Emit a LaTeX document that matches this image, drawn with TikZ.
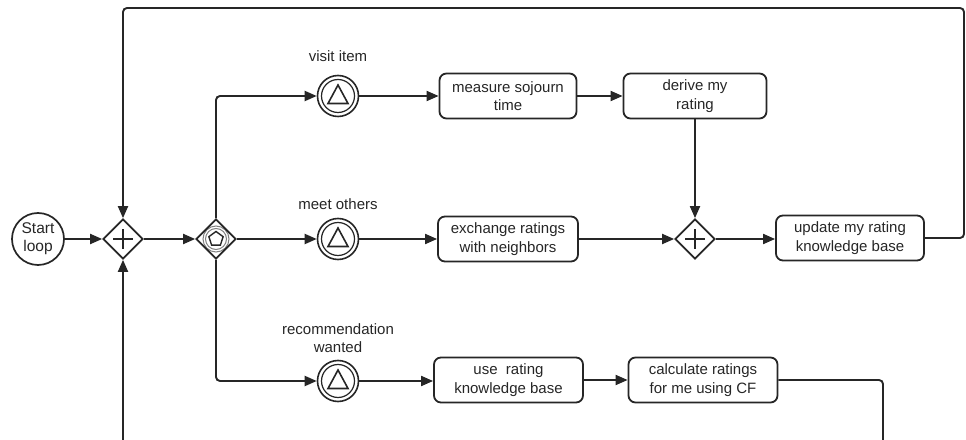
\documentclass[tikz,border=0pt]{standalone}
\usepackage{fontspec}
\setmainfont{Liberation Sans}
\usetikzlibrary{arrows.meta,shapes.geometric}
\definecolor{ink}{rgb}{0.15,0.15,0.15}
\begin{document}
\begin{tikzpicture}[x=1pt,y=1pt,
  every node/.style={text=ink,font=\fontsize{15}{18.5}\selectfont},
  arr/.style={draw=ink,line width=1.9pt,-{Triangle[length=12pt,width=10pt]},rounded corners=4pt},
  ln/.style={draw=ink,line width=1.9pt,rounded corners=4pt},
  task/.style={draw=ink,line width=1.8pt,rectangle,rounded corners=7pt,align=center,
    minimum height=45pt,inner sep=2pt},
  gate/.style={draw=ink,line width=1.7pt,diamond,aspect=1,minimum width=40pt,minimum height=40pt,inner sep=0pt},
  plusgate/.style={gate,path picture={
    \draw[ink,line width=1.6pt] ([xshift=-10pt]path picture bounding box.center) -- ([xshift=10pt]path picture bounding box.center);
    \draw[ink,line width=1.6pt] ([yshift=-10pt]path picture bounding box.center) -- ([yshift=10pt]path picture bounding box.center);}},
  evgate/.style={gate,path picture={
    \draw[gray,line width=1pt] (path picture bounding box.center) circle (13pt);
    \draw[gray,line width=1pt] (path picture bounding box.center) circle (10.5pt);
    \draw[ink,line width=1.4pt] ([shift={(90:7.5pt)}]path picture bounding box.center)
      -- ([shift={(162:7.5pt)}]path picture bounding box.center)
      -- ([shift={(234:7.5pt)}]path picture bounding box.center)
      -- ([shift={(306:7.5pt)}]path picture bounding box.center)
      -- ([shift={(18:7.5pt)}]path picture bounding box.center) -- cycle;}},
  evt/.style={draw=ink,line width=1.6pt,circle,minimum size=41pt,inner sep=0pt,path picture={
    \draw[ink,line width=1.2pt] (path picture bounding box.center) circle (16.5pt);
    \draw[ink,line width=1.6pt] ([shift={(0pt,11pt)}]path picture bounding box.center)
      -- ([shift={(-10pt,-7.5pt)}]path picture bounding box.center)
      -- ([shift={(10pt,-7.5pt)}]path picture bounding box.center) -- cycle;}},
  startev/.style={draw=ink,line width=1.7pt,circle,minimum size=52pt,inner sep=0pt,align=center,
    font=\fontsize{15.5}{18}\selectfont}
]
\useasboundingbox (0,0) rectangle (966,439);

% nodes
\node[startev] (start) at (38,200) {Start\\loop};
\node[plusgate] (g1) at (123,200) {};
\node[evgate] (g2) at (216,200) {};

\node[evt] (e1) at (338,343) {};
\node (l1) at (338,383) {visit item};
\node[task,minimum width=137pt] (measure) at (508,343) {measure sojourn\\time};
\node[task,minimum width=143pt] (derive) at (695,343) {derive my\\rating};

\node[evt] (e2) at (338,200) {};
\node (l2) at (338,235) {meet others};
\node[task,minimum width=140pt] (exch) at (508,200) {exchange ratings\\with neighbors};
\node[plusgate] (g3) at (695,200) {};
\node[task,minimum width=148pt] (upd) at (850,201) {update my rating\\knowledge base};

\node[evt] (e3) at (338,58) {};
\node[align=center] (l3) at (338,101) {recommendation\\wanted};
\node[task,minimum width=149pt] (use) at (508.5,59) {use\ \ rating\\knowledge base};
\node[task,minimum width=149pt] (calc) at (703,59) {calculate ratings\\for me using CF};

\coordinate (tr) at (964,431);
\coordinate (bl) at (123,-6);
\coordinate (br) at (883,-6);

% connectors
\draw[arr] (start) -- (g1);
\draw[arr] (g1) -- (g2);
\draw[arr] (g2.north) |- (e1.west);
\draw[arr] (g2.east) -- (e2.west);
\draw[arr] (g2.south) |- (e3.west);

\draw[arr] (e1) -- (measure);
\draw[arr] (measure) -- (derive);
\draw[arr] (derive.south) -- (g3.north);

\draw[arr] (e2) -- (exch);
\draw[arr] (exch) -- (g3);
\draw[arr] (g3.east) -- (g3.east -| upd.west);

\draw[arr] (e3) -- (use.west |- e3);
\draw[arr] (use) -- (calc);

\draw[arr] (upd.east) -| (tr) -| (g1.north);
\draw[arr] (bl) -- (g1.south);
\draw[ln] (calc.east) -| (br);
\end{tikzpicture}
\end{document}
